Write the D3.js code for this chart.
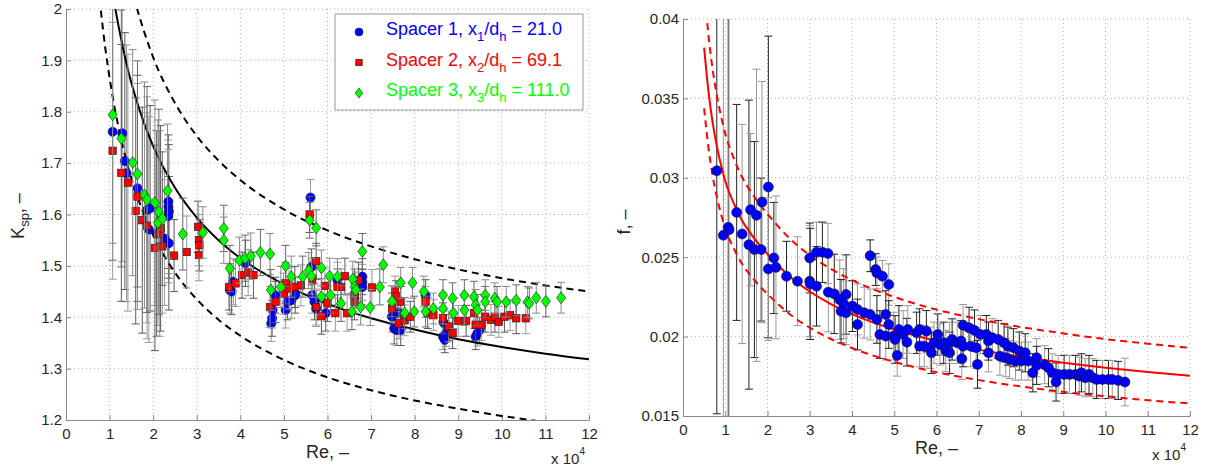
<!DOCTYPE html>
<html lang="en">
<head>
<meta charset="UTF-8" />
<title>Spacer loss coefficient and friction factor</title>
<script src="https://cdn.jsdelivr.net/npm/d3@7"></script>
<style>
  body { margin: 0; background: #fff; }
  svg { font-family: Arial, "Liberation Sans", sans-serif; }
</style>
</head>
<body>
<svg id="chart" width="1207" height="473"></svg>
<script>
// ---- data (Re in units of 10^4) ----
const reTicks = [0, 1, 2, 3, 4, 5, 6, 7, 8, 9, 10, 11, 12];
const kTicks = [1.2, 1.3, 1.4, 1.5, 1.6, 1.7, 1.8, 1.9, 2];
const kTickLabels = ["1.2", "1.3", "1.4", "1.5", "1.6", "1.7", "1.8", "1.9", "2"];
const fTicks = [0.015, 0.02, 0.025, 0.03, 0.035, 0.04];
const fTickLabels = ["0.015", "0.02", "0.025", "0.03", "0.035", "0.04"];

// correlation curves, left panel (solid fit and +/-10% band)
const kCurveRe = [0.8, 0.9, 1.0, 1.1, 1.2, 1.4, 1.6, 1.8, 2.0, 2.5, 3, 3.5, 4, 5, 6, 7, 8, 9, 10, 11, 12];
const kFit   = [2.218, 2.139, 2.073, 2.017, 1.969, 1.889, 1.827, 1.776, 1.733, 1.652, 1.594, 1.550, 1.515, 1.464, 1.426, 1.398, 1.376, 1.357, 1.342, 1.329, 1.318];
const kUpper = [2.440, 2.353, 2.280, 2.219, 2.166, 2.078, 2.010, 1.954, 1.906, 1.817, 1.753, 1.705, 1.667, 1.610, 1.569, 1.538, 1.513, 1.493, 1.476, 1.462, 1.450];
const kLower = [1.997, 1.925, 1.866, 1.815, 1.772, 1.700, 1.644, 1.598, 1.560, 1.487, 1.435, 1.395, 1.364, 1.317, 1.283, 1.258, 1.238, 1.222, 1.208, 1.196, 1.186];

// correlation curves, right panel
const fCurveRe = [0.5, 0.6, 0.7, 0.8, 0.9, 1.0, 1.2, 1.4, 1.6, 1.8, 2, 2.5, 3, 3.5, 4, 5, 6, 7, 8, 9, 10, 11, 12];
const fFit   = [0.0382, 0.0355, 0.0335, 0.0320, 0.0308, 0.0298, 0.0284, 0.0273, 0.0265, 0.0258, 0.0252, 0.02385, 0.02284, 0.02205, 0.02142, 0.02045, 0.01973, 0.01918, 0.01873, 0.01836, 0.01804, 0.01777, 0.01754];
const fUpper = [0.0420, 0.03905, 0.03685, 0.0352, 0.03388, 0.03278, 0.03124, 0.03003, 0.02915, 0.02838, 0.02772, 0.02624, 0.02512, 0.02426, 0.02356, 0.0225, 0.0217, 0.0211, 0.0206, 0.0202, 0.01984, 0.01955, 0.01929];
const fLower = [0.03438, 0.03195, 0.03015, 0.0288, 0.02772, 0.02682, 0.02556, 0.02457, 0.02385, 0.02322, 0.02268, 0.02147, 0.02056, 0.01985, 0.01928, 0.01841, 0.01776, 0.01726, 0.01686, 0.01652, 0.01624, 0.01599, 0.01579];

// [Re, value, error half-width]
const spacer1 = [
  [1.07,1.761,0.25],[1.29,1.758,0.25],[1.35,1.704,0.25],[1.39,1.680,0.25],[1.64,1.651,0.22],[1.86,1.609,0.22],
  [1.93,1.612,0.2],[1.90,1.571,0.22],[2.08,1.563,0.2],[2.26,1.553,0.13],[2.35,1.625,0.13],[2.35,1.615,0.13],
  [2.36,1.606,0.13],[2.35,1.597,0.13],[2.36,1.544,0.13],[3.76,1.453,0.045],[3.80,1.450,0.045],[3.84,1.469,0.045],
  [4.12,1.505,0.045],[4.71,1.388,0.035],[4.73,1.398,0.035],[4.74,1.414,0.035],[4.80,1.443,0.035],[5.04,1.414,0.035],
  [5.08,1.430,0.035],[5.17,1.433,0.035],[5.26,1.443,0.035],[5.61,1.633,0.035],[5.63,1.498,0.035],[5.65,1.443,0.035],
  [5.70,1.430,0.035],[5.74,1.417,0.035],[5.96,1.408,0.035],[6.23,1.472,0.035],[6.80,1.479,0.035],[6.80,1.468,0.035],
  [6.80,1.459,0.035],[7.48,1.401,0.03],[7.53,1.378,0.03],[7.59,1.375,0.03],[7.68,1.375,0.03],[7.62,1.410,0.03],
  [8.25,1.443,0.03],[8.65,1.362,0.025],[8.69,1.356,0.025],[8.72,1.368,0.025],[8.78,1.380,0.025],[8.66,1.390,0.025],
  [9.40,1.362,0.025],[9.44,1.369,0.025],[9.49,1.375,0.025]
];
const spacer2 = [
  [1.07,1.724,0.25],[1.27,1.681,0.25],[1.42,1.662,0.25],[1.60,1.607,0.22],[1.64,1.635,0.22],[1.75,1.589,0.22],
  [1.86,1.578,0.22],[2.04,1.535,0.2],[2.15,1.563,0.2],[2.17,1.573,0.2],[2.21,1.538,0.13],[2.48,1.520,0.07],
  [2.77,1.527,0.07],[3.03,1.576,0.05],[3.05,1.550,0.05],[3.06,1.540,0.05],[3.05,1.521,0.05],[3.74,1.459,0.045],
  [3.89,1.466,0.045],[4.04,1.482,0.045],[4.18,1.487,0.045],[4.30,1.482,0.045],[4.68,1.420,0.04],[4.81,1.430,0.04],
  [4.99,1.446,0.04],[5.04,1.466,0.04],[5.12,1.456,0.04],[5.25,1.459,0.04],[5.39,1.462,0.04],[5.59,1.600,0.035],
  [5.65,1.474,0.035],[5.74,1.509,0.035],[5.74,1.420,0.035],[5.86,1.402,0.035],[5.94,1.461,0.035],[6.00,1.427,0.035],
  [6.18,1.408,0.035],[6.23,1.459,0.035],[6.31,1.459,0.035],[6.40,1.480,0.035],[6.45,1.408,0.035],[6.62,1.430,0.035],
  [6.62,1.443,0.035],[6.71,1.472,0.035],[7.02,1.458,0.035],[7.48,1.417,0.03],[7.55,1.450,0.03],[7.57,1.441,0.03],
  [7.64,1.388,0.03],[7.68,1.430,0.03],[7.77,1.394,0.03],[7.90,1.401,0.03],[8.25,1.430,0.03],[8.30,1.408,0.03],
  [8.43,1.404,0.03],[8.65,1.398,0.03],[8.78,1.382,0.03],[8.87,1.369,0.03],[9.00,1.393,0.03],[9.18,1.393,0.03],
  [9.36,1.408,0.03],[9.40,1.385,0.03],[9.53,1.385,0.03],[9.62,1.401,0.03],[9.75,1.395,0.03],[9.84,1.401,0.03],
  [9.93,1.391,0.03],[10.06,1.401,0.03],[10.19,1.404,0.03],[10.33,1.398,0.03],[10.55,1.398,0.03]
];
const spacer3 = [
  [1.07,1.794,0.25],[1.27,1.748,0.25],[1.53,1.701,0.22],[1.64,1.679,0.22],[1.80,1.638,0.22],[1.86,1.629,0.22],
  [2.04,1.623,0.2],[2.13,1.605,0.2],[2.11,1.584,0.2],[2.21,1.592,0.13],[2.33,1.646,0.13],[2.68,1.562,0.07],
  [3.14,1.565,0.05],[3.62,1.573,0.045],[3.62,1.550,0.045],[3.76,1.495,0.045],[3.98,1.511,0.045],[4.11,1.515,0.045],
  [4.24,1.519,0.045],[4.46,1.526,0.045],[4.68,1.523,0.04],[4.70,1.453,0.04],[4.93,1.459,0.04],[5.04,1.500,0.04],
  [5.17,1.479,0.04],[5.43,1.479,0.04],[5.57,1.491,0.035],[5.59,1.589,0.035],[5.63,1.480,0.035],[5.74,1.574,0.035],
  [5.86,1.496,0.035],[5.86,1.440,0.035],[6.05,1.480,0.035],[6.07,1.443,0.035],[6.23,1.479,0.035],[6.31,1.427,0.035],
  [6.58,1.474,0.035],[6.62,1.459,0.035],[6.65,1.453,0.035],[6.56,1.411,0.035],[6.76,1.420,0.035],[6.80,1.528,0.035],
  [6.98,1.419,0.035],[7.20,1.459,0.035],[7.28,1.502,0.035],[7.48,1.431,0.03],[7.68,1.467,0.03],[7.77,1.408,0.03],
  [7.95,1.467,0.03],[7.99,1.411,0.03],[8.21,1.450,0.03],[8.25,1.411,0.03],[8.43,1.417,0.03],[8.65,1.443,0.03],
  [8.65,1.417,0.03],[8.87,1.437,0.03],[8.89,1.408,0.03],[9.14,1.443,0.03],[9.14,1.414,0.03],[9.36,1.440,0.03],
  [9.40,1.424,0.03],[9.44,1.414,0.03],[9.62,1.443,0.03],[9.62,1.430,0.03],[9.84,1.437,0.03],[9.89,1.430,0.03],
  [10.10,1.430,0.03],[10.33,1.433,0.03],[10.59,1.430,0.03],[10.63,1.427,0.03],[10.79,1.438,0.03],[11.01,1.431,0.03],
  [11.36,1.438,0.03]
];
const frictionData = [
  [0.80,0.03044,0.0153],[0.955,0.02638,0.014],[1.07,0.02688,0.014],[1.09,0.02673,0.014],[1.27,0.02782,0.0068],
  [1.40,0.02646,0.0069],[1.56,0.02579,0.0091],[1.60,0.02799,0.0048],[1.69,0.02548,0.0068],[1.74,0.02764,0.0092],
  [1.85,0.02548,0.0045],[1.87,0.02847,0.0076],[2.02,0.02942,0.0095],[2.02,0.02426,0.0045],[2.15,0.02495,0.0035],
  [2.20,0.02436,0.0045],[2.45,0.0238,0.0022],[2.71,0.02349,0.0028],[3.00,0.02495,0.0022],[3.00,0.02349,0.0035],
  [3.01,0.02332,0.0035],[3.16,0.02531,0.0019],[3.30,0.02531,0.0019],[3.43,0.02523,0.0019],[3.16,0.02317,0.0025],
  [3.44,0.0228,0.0025],[3.58,0.02269,0.0025],[3.71,0.02233,0.0025],[3.86,0.02265,0.0025],[3.80,0.02208,0.0022],
  [3.74,0.0216,0.002],[3.86,0.0215,0.002],[4.01,0.02192,0.0016],[4.13,0.02171,0.0016],[4.13,0.02076,0.0016],
  [4.29,0.0215,0.0016],[4.43,0.02509,0.001],[4.43,0.02139,0.0016],[4.56,0.02422,0.001],[4.59,0.02401,0.001],
  [4.59,0.02108,0.0015],[4.72,0.0238,0.001],[4.80,0.02139,0.0015],[4.87,0.02328,0.0013],[4.66,0.02013,0.0015],
  [4.80,0.02003,0.0015],[4.87,0.02076,0.0015],[4.98,0.02003,0.0015],[5.02,0.01982,0.0015],[5.07,0.01881,0.0013],
  [5.11,0.02045,0.0015],[5.21,0.02013,0.0015],[5.30,0.01965,0.0015],[5.32,0.02045,0.0015],[5.53,0.02024,0.0013],
  [5.60,0.0194,0.0013],[5.60,0.02045,0.0013],[5.71,0.0194,0.0013],[5.76,0.02034,0.0013],[5.85,0.0193,0.0013],
  [5.88,0.01898,0.0013],[5.94,0.01961,0.0013],[6.03,0.02013,0.0013],[6.08,0.0195,0.0013],[6.17,0.01961,0.0013],
  [6.22,0.01909,0.0013],[6.31,0.01898,0.0013],[6.31,0.01961,0.0013],[6.37,0.01982,0.0013],[6.49,0.01961,0.0013],
  [6.58,0.01972,0.0013],[6.60,0.0186,0.0013],[6.63,0.0194,0.0013],[6.63,0.02072,0.0013],[6.77,0.02055,0.0013],
  [6.81,0.0194,0.0013],[6.90,0.02038,0.0013],[6.94,0.0193,0.0013],[6.97,0.01825,0.0015],[7.04,0.02013,0.0012],
  [7.18,0.02013,0.0012],[7.23,0.01898,0.0012],[7.23,0.01972,0.0012],[7.32,0.01993,0.0012],[7.46,0.01982,0.0012],
  [7.50,0.01877,0.0012],[7.60,0.01961,0.0012],[7.64,0.01867,0.0012],[7.69,0.0194,0.0012],[7.73,0.01856,0.0012],
  [7.82,0.0193,0.0012],[7.87,0.01846,0.0012],[7.96,0.01909,0.0012],[8.01,0.01846,0.0012],[8.10,0.01898,0.0012],
  [8.17,0.01846,0.0012],[8.28,0.01772,0.0012],[8.37,0.01867,0.0012],[8.37,0.01819,0.0012],[8.56,0.01823,0.0012],
  [8.65,0.01804,0.0012],[8.74,0.01772,0.0012],[8.83,0.01714,0.0012],[8.88,0.01762,0.0012],[9.02,0.01762,0.0012],
  [9.15,0.01762,0.0012],[9.29,0.01762,0.0012],[9.38,0.01751,0.0012],[9.43,0.01772,0.0012],[9.52,0.01741,0.0012],
  [9.61,0.01762,0.0012],[9.70,0.01741,0.0012],[9.79,0.0173,0.0012],[9.93,0.0173,0.0012],[10.07,0.0173,0.0012],
  [10.16,0.0173,0.0012],[10.30,0.01724,0.0012],[10.46,0.01714,0.0015]
];

const legendItems = [
  { name: "Spacer 1", sub: "1", value: "21.0", color: "#0000ff", shape: "circle" },
  { name: "Spacer 2", sub: "2", value: "69.1", color: "#ff0000", shape: "square" },
  { name: "Spacer 3", sub: "3", value: "111.0", color: "#00ff00", shape: "diamond" }
];

// ---- drawing ----
const svg = d3.select("#chart");
const defs = svg.append("defs");
const gridColor = "#b4b4b4";
const axisColor = "#8a8a8a";
const textColor = "#262626";

function marker(sel, shape, color, size) {
  if (shape === "circle") {
    sel.append("circle").attr("r", size).attr("fill", color);
  } else if (shape === "square") {
    sel.append("rect").attr("x", -size * 0.85).attr("y", -size * 0.85)
      .attr("width", size * 1.7).attr("height", size * 1.7).attr("fill", color);
  } else {
    const w = size, h = size * 1.3;
    sel.append("path").attr("d", `M0,${-h}L${w},0L0,${h}L${-w},0Z`).attr("fill", color);
  }
  sel.selectAll("*").attr("stroke", "#1a1a1a").attr("stroke-width", 0.6);
}

function panel(opt) {
  const x = d3.scaleLinear().domain([0, 12]).range([opt.left, opt.right]);
  const y = d3.scaleLinear().domain([opt.yTicks[0], opt.yTicks[opt.yTicks.length - 1]]).range([opt.bottom, opt.top]);
  const g = svg.append("g");

  defs.append("clipPath").attr("id", opt.id + "-clip")
    .append("rect")
    .attr("x", opt.left).attr("y", opt.top)
    .attr("width", opt.right - opt.left).attr("height", opt.bottom - opt.top);

  // dotted grid
  g.append("g").selectAll("line").data(reTicks.slice(1)).join("line")
    .attr("x1", d => x(d)).attr("x2", d => x(d))
    .attr("y1", opt.top).attr("y2", opt.bottom)
    .attr("stroke", gridColor).attr("stroke-dasharray", "1,3");
  g.append("g").selectAll("line").data(opt.yTicks.slice(1)).join("line")
    .attr("x1", opt.left).attr("x2", opt.right)
    .attr("y1", d => y(d)).attr("y2", d => y(d))
    .attr("stroke", gridColor).attr("stroke-dasharray", "1,3");

  // axes with inward ticks
  const xAxis = g.append("g").attr("transform", `translate(0,${opt.bottom})`)
    .call(d3.axisBottom(x).tickValues(reTicks).tickFormat(d3.format("d")).tickSize(-5).tickSizeOuter(0).tickPadding(8));
  const yAxis = g.append("g").attr("transform", `translate(${opt.left},0)`)
    .call(d3.axisLeft(y).tickValues(opt.yTicks).tickFormat((d, i) => opt.yLabels[i]).tickSize(-5).tickSizeOuter(0).tickPadding(4));
  [xAxis, yAxis].forEach(a => {
    a.select(".domain").attr("stroke", axisColor);
    a.selectAll(".tick line").attr("stroke", axisColor);
    a.selectAll(".tick text").attr("fill", textColor).attr("font-size", 15)
      .attr("font-family", "Arial, 'Liberation Sans', sans-serif");
  });

  const plot = g.append("g").attr("clip-path", `url(#${opt.id}-clip)`);

  // error bars then markers, series by series
  opt.series.forEach(s => {
    const bars = plot.append("g").selectAll("g").data(s.data).join("g")
      .attr("stroke", (d, i) => s.barColors[i % s.barColors.length]).attr("stroke-width", 1);
    bars.append("line")
      .attr("x1", d => x(d[0])).attr("x2", d => x(d[0]))
      .attr("y1", d => y(d[1] - d[2])).attr("y2", d => y(d[1] + d[2]));
    bars.append("line")
      .attr("x1", d => x(d[0]) - 4).attr("x2", d => x(d[0]) + 4)
      .attr("y1", d => y(d[1] - d[2])).attr("y2", d => y(d[1] - d[2]));
    bars.append("line")
      .attr("x1", d => x(d[0]) - 4).attr("x2", d => x(d[0]) + 4)
      .attr("y1", d => y(d[1] + d[2])).attr("y2", d => y(d[1] + d[2]));

    // fit curves are drawn once, right after the first series' bars
    if (s === opt.series[0]) drawCurves();

    plot.append("g").selectAll("g").data(s.data).join("g")
      .attr("transform", d => `translate(${x(d[0])},${y(d[1])})`)
      .each(function () { marker(d3.select(this), s.shape, s.color, s.size); });
  });

  function drawCurves() {
    opt.curves.forEach(c => {
      const line = d3.line().x((d, i) => x(opt.curveRe[i])).y(d => y(d)).curve(d3.curveMonotoneX);
      plot.append("path").datum(c.values)
        .attr("d", line).attr("fill", "none")
        .attr("stroke", opt.curveColor).attr("stroke-width", 2)
        .attr("stroke-dasharray", c.dashed ? "7,5" : null);
    });
  }

  // axis titles
  g.append("text").attr("x", (opt.left + opt.right) / 2).attr("y", opt.bottom + 38)
    .attr("text-anchor", "middle").attr("font-size", 18).attr("fill", textColor)
    .text("Re, \u2013");
  const exp = g.append("text").attr("x", opt.right - 4).attr("y", opt.bottom + 44)
    .attr("text-anchor", "end").attr("font-size", 15).attr("fill", textColor);
  exp.append("tspan").text("x 10");
  exp.append("tspan").attr("font-size", 10).attr("dy", -9).text("4");

  const yt = g.append("text")
    .attr("transform", `translate(${opt.yTitleX},${opt.yTitleY}) rotate(-90)`)
    .attr("text-anchor", "middle").attr("font-size", 18).attr("fill", textColor);
  yt.append("tspan").text(opt.yTitle);
  if (opt.yTitleSub) {
    yt.append("tspan").attr("font-size", 13).attr("dy", 5).text(opt.yTitleSub);
    yt.append("tspan").attr("dy", -5).text(", \u2013");
  }
}

panel({
  id: "ksp", left: 66, right: 589, top: 9, bottom: 420,
  yTicks: kTicks, yLabels: kTickLabels,
  curveRe: kCurveRe, curveColor: "#000",
  curves: [{ values: kFit }, { values: kUpper, dashed: true }, { values: kLower, dashed: true }],
  series: [
    { data: spacer1, shape: "circle", color: "#0000ff", size: 4.6, barColors: ["#5a5a5a", "#9a9a9a"] },
    { data: spacer2, shape: "square", color: "#ff0000", size: 4.4, barColors: ["#9a9a9a", "#5a5a5a"] },
    { data: spacer3, shape: "diamond", color: "#00ff00", size: 4.6, barColors: ["#8a8a8a", "#6a6a6a"] }
  ],
  yTitle: "K", yTitleSub: "sp", yTitleX: 24, yTitleY: 216
});

panel({
  id: "fric", left: 683, right: 1190, top: 19, bottom: 416,
  yTicks: fTicks, yLabels: fTickLabels,
  curveRe: fCurveRe, curveColor: "#ff0000",
  curves: [{ values: fFit }, { values: fUpper, dashed: true }, { values: fLower, dashed: true }],
  series: [
    { data: frictionData, shape: "circle", color: "#0000ff", size: 5, barColors: ["#222", "#9a9a9a"] }
  ],
  yTitle: "f, \u2013", yTitleX: 630, yTitleY: 222
});

// legend
const lg = svg.append("g");
lg.append("rect").attr("x", 335).attr("y", 14).attr("width", 248).attr("height", 96)
  .attr("fill", "#fff").attr("stroke", "#999").attr("stroke-width", 1);
const rows = lg.selectAll("g.row").data(legendItems).join("g").attr("class", "row")
  .attr("transform", (d, i) => `translate(0,${32 + i * 30.5})`);
rows.each(function (d) {
  const r = d3.select(this);
  marker(r.append("g").attr("transform", "translate(359,0)"), d.shape, d.color, d.shape === "circle" ? 4 : 3.8);
  const t = r.append("text").attr("x", 386).attr("y", 3).attr("font-size", 18).attr("fill", d.color);
  t.append("tspan").text(`${d.name}, x`);
  t.append("tspan").attr("font-size", 13).attr("dy", 6).text(d.sub);
  t.append("tspan").attr("dy", -6).text("/d");
  t.append("tspan").attr("font-size", 13).attr("dy", 6).text("h");
  t.append("tspan").attr("dy", -6).text(` = ${d.value}`);
});
</script>
</body>
</html>
